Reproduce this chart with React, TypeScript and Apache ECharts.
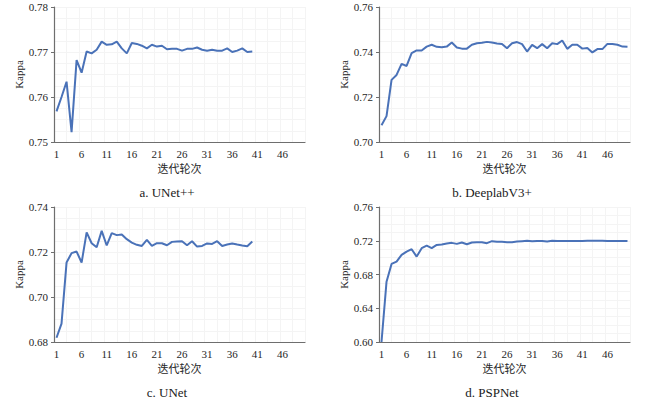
import React, { useEffect, useRef } from 'react';
import * as echarts from 'echarts';

// epochs 1..50
const epochs = Array.from({ length: 50 }, (_, i) => String(i + 1));

const unetPP = [
  0.7568, 0.76, 0.7634, 0.7522, 0.7682, 0.7654, 0.7701, 0.7697, 0.7705, 0.7723,
  0.7716, 0.7717, 0.7723, 0.7708, 0.7697, 0.772, 0.7718, 0.7714, 0.7708, 0.7716,
  0.7712, 0.7714, 0.7706, 0.7707, 0.7707, 0.7703, 0.7707, 0.7707, 0.771, 0.7705,
  0.7703, 0.7705, 0.7703, 0.7703, 0.7708, 0.77, 0.7703, 0.7708, 0.77, 0.7701,
];

const deeplab = [
  0.7074, 0.7115, 0.7276, 0.7298, 0.7347, 0.7338, 0.7395, 0.7407, 0.7407, 0.7424,
  0.7432, 0.7423, 0.7421, 0.7424, 0.7442, 0.742, 0.7415, 0.7415, 0.7432, 0.7439,
  0.7441, 0.7445, 0.7442, 0.7438, 0.7436, 0.7417, 0.7439, 0.7444, 0.7435, 0.7402,
  0.7432, 0.7417, 0.7435, 0.7417, 0.7439, 0.7435, 0.7451, 0.7414, 0.7432, 0.7432,
  0.7415, 0.7418, 0.7398, 0.7413, 0.7413, 0.7436, 0.7436, 0.7432, 0.7424, 0.7423,
];

const unet = [
  0.6819, 0.6882, 0.7153, 0.7195, 0.7202, 0.7153, 0.7287, 0.7239, 0.7221, 0.7294,
  0.7229, 0.7284, 0.7275, 0.7278, 0.7257, 0.7242, 0.7232, 0.7227, 0.7254, 0.7227,
  0.7239, 0.7239, 0.723, 0.7245, 0.7247, 0.7248, 0.723, 0.7248, 0.7224, 0.7227,
  0.7238, 0.7236, 0.7248, 0.7227, 0.7233, 0.7238, 0.7233, 0.7229, 0.7226, 0.7247,
];

const pspnet = [
  0.6, 0.6715, 0.6925, 0.6953, 0.7032, 0.7072, 0.71, 0.7012, 0.7112, 0.7143,
  0.7112, 0.7151, 0.7155, 0.7167, 0.7175, 0.7163, 0.7179, 0.7159, 0.7179, 0.7183,
  0.7183, 0.7171, 0.7195, 0.7187, 0.7187, 0.7183, 0.7183, 0.7191, 0.7195, 0.7199,
  0.7195, 0.7196, 0.7196, 0.7192, 0.72, 0.7196, 0.7196, 0.7196, 0.7196, 0.7196,
  0.7198, 0.7199, 0.7199, 0.7199, 0.72, 0.7196, 0.7198, 0.7198, 0.7198, 0.7196,
];

const panels = [
  { caption: 'a. UNet++', data: unetPP, min: 0.75, max: 0.78, interval: 0.01, left: 54, top: 7 },
  { caption: 'b. DeeplabV3+', data: deeplab, min: 0.7, max: 0.76, interval: 0.02, left: 379, top: 7 },
  { caption: 'c. UNet', data: unet, min: 0.68, max: 0.74, interval: 0.02, left: 54, top: 207 },
  { caption: 'd. PSPNet', data: pspnet, min: 0.6, max: 0.76, interval: 0.04, left: 379, top: 207 },
];

// no quotes: they break the svg attribute
const SERIF = 'Liberation Serif, Noto Sans CJK SC, serif';
const AXIS = '#6e6e6e';
const TEXT = '#262626';
const FAINT = '#f4f4f4';
const W = 251;
const H = 135;

const App: React.FC = () => {
  const chartRef = useRef<HTMLDivElement>(null);

  useEffect(() => {
    document.body.style.margin = '0';
    if (!chartRef.current) return;
    const chart = echarts.init(chartRef.current, null, { renderer: 'svg' });

    const grid: any[] = [];
    const xAxis: any[] = [];
    const yAxis: any[] = [];
    const series: any[] = [];
    const graphic: any[] = [];

    panels.forEach((p, i) => {
      grid.push({ left: p.left, top: p.top, width: W, height: H });
      // category axis (visible)
      xAxis.push({
        type: 'category',
        gridIndex: i,
        data: epochs,
        boundaryGap: true,
        name: '迭代轮次',
        nameLocation: 'middle',
        nameGap: 21,
        nameTextStyle: { fontFamily: SERIF, fontSize: 11, color: TEXT },
        axisLine: { lineStyle: { color: AXIS, width: 1.2 } },
        axisTick: { interval: 4, inside: true, length: 3, lineStyle: { color: AXIS } },
        axisLabel: { interval: 4, margin: 6, fontFamily: SERIF, fontSize: 11, color: TEXT },
        splitLine: { show: false },
      });
      // hidden value axis just for the faint vertical grid
      xAxis.push({
        type: 'value',
        gridIndex: i,
        min: 0,
        max: 50,
        interval: 2.5,
        axisLine: { show: false },
        axisTick: { show: false },
        axisLabel: { show: false },
        splitLine: { show: true, lineStyle: { color: FAINT, width: 1 } },
      });
      yAxis.push({
        type: 'value',
        gridIndex: i,
        min: p.min,
        max: p.max,
        interval: p.interval,
        name: 'Kappa',
        nameLocation: 'middle',
        nameGap: 30,
        nameTextStyle: { fontFamily: SERIF, fontSize: 11, color: TEXT },
        axisLine: { show: true, lineStyle: { color: AXIS, width: 1.2 } },
        axisTick: { show: true, length: 3, lineStyle: { color: AXIS } },
        axisLabel: {
          margin: 6,
          fontFamily: SERIF,
          fontSize: 11,
          color: TEXT,
          formatter: (v: number) => v.toFixed(2),
        },
        splitLine: { show: true, lineStyle: { color: FAINT, width: 1 } },
        minorTick: { show: false, splitNumber: 4 },
        minorSplitLine: { show: true, lineStyle: { color: FAINT, width: 1 } },
      });
      series.push({
        type: 'line',
        xAxisIndex: i * 2,
        yAxisIndex: i,
        data: p.data,
        showSymbol: false,
        lineStyle: { color: '#4a72b8', width: 2 },
        itemStyle: { color: '#4a72b8' },
      });
      graphic.push({
        type: 'text',
        x: p.left + 113,
        y: p.top + 185,
        style: {
          text: p.caption,
          font: `13px ${SERIF}`,
          fill: '#1a1a1a',
          textAlign: 'center',
          textVerticalAlign: 'middle',
        },
      });
    });

    chart.setOption({
      animation: false,
      backgroundColor: '#ffffff',
      grid,
      xAxis,
      yAxis,
      series,
      graphic,
    });

    return () => {
      chart.dispose();
    };
  }, []);

  return <div ref={chartRef} style={{ width: 650, height: 401 }} />;
};

export default App;
